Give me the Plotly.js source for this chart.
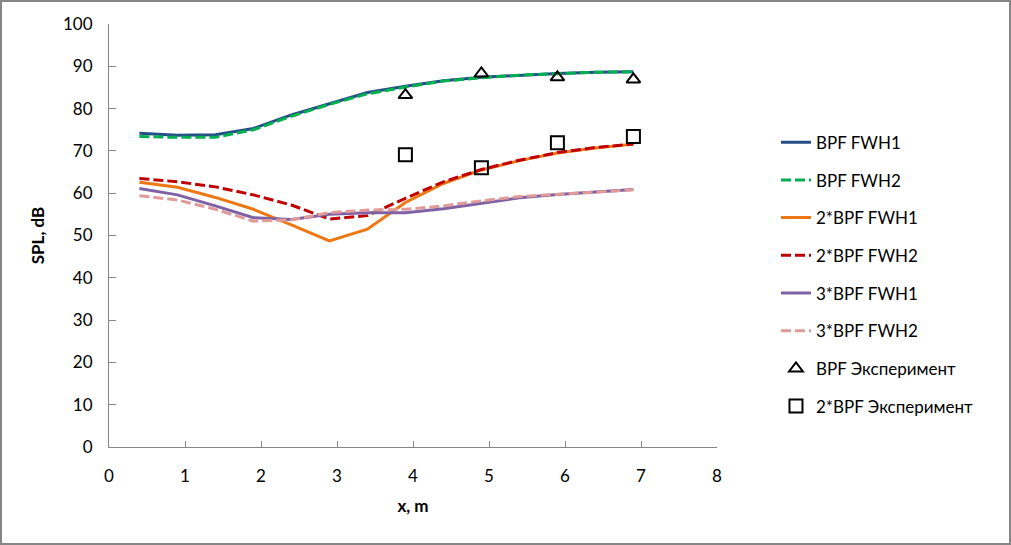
<!DOCTYPE html>
<html>
<head>
<meta charset="utf-8">
<script src="https://cdn.plot.ly/plotly-3.0.1.min.js"></script>
<style>
html,body{margin:0;padding:0;background:#fff;}
#wrap{width:1011px;height:545px;box-sizing:border-box;border:2px solid #868686;}
#chart{width:1007px;height:541px;}
</style>
</head>
<body>
<div id="wrap"><div id="chart"></div></div>
<script>
const xModel = [0.4, 0.9, 1.4, 1.9, 2.4, 2.9, 3.4, 3.9, 4.4, 4.9, 5.4, 5.9, 6.4, 6.9];
const bpfFwh1  = [74.2, 73.7, 73.8, 75.3, 78.5, 81.2, 83.8, 85.3, 86.6, 87.4, 87.9, 88.3, 88.6, 88.7];
const bpfFwh2  = [73.4, 73.2, 73.2, 75.0, 78.2, 81.0, 83.5, 85.1, 86.5, 87.3, 87.9, 88.3, 88.6, 88.7];
const bpf2Fwh1 = [62.6, 61.4, 59.0, 56.2, 52.5, 48.7, 51.5, 57.8, 62.3, 65.5, 67.7, 69.5, 70.7, 71.6];
const bpf2Fwh2 = [63.5, 62.7, 61.5, 59.6, 57.2, 53.9, 54.7, 58.8, 62.7, 65.6, 67.8, 69.6, 70.8, 71.6];
const bpf3Fwh1 = [61.1, 59.6, 57.0, 54.2, 53.8, 55.0, 55.4, 55.4, 56.3, 57.6, 58.9, 59.7, 60.3, 60.9];
const bpf3Fwh2 = [59.4, 58.4, 56.2, 53.4, 53.7, 55.4, 56.0, 56.2, 57.0, 58.2, 59.2, 59.7, 60.3, 60.8];
const xExp = [3.9, 4.9, 5.9, 6.9];
const bpfExp  = [83.2, 88.3, 87.4, 86.9];
const bpf2Exp = [69.1, 66.0, 71.9, 73.4];
const xTicks = [0, 1, 2, 3, 4, 5, 6, 7, 8];
const yTicks = [0, 10, 20, 30, 40, 50, 60, 70, 80, 90, 100];

const lineTrace = (y, name, color, dash, g) => ({
  x: xModel, y: y, name: name, type: 'scatter', mode: 'lines',
  line: {color: color, width: 3, dash: dash}, legendgroup: g
});
const data = [
  lineTrace(bpfFwh1, 'BPF FWH1', '#254E86', 'solid', 'a'),
  lineTrace(bpfFwh2, 'BPF FWH2', '#00B050', '10px,4px', 'b'),
  lineTrace(bpf2Fwh1, '2*BPF FWH1', '#ED7813', 'solid', 'c'),
  lineTrace(bpf2Fwh2, '2*BPF FWH2', '#C00000', '10px,4px', 'd'),
  lineTrace(bpf3Fwh1, '3*BPF FWH1', '#7F62A6', 'solid', 'e'),
  lineTrace(bpf3Fwh2, '3*BPF FWH2', '#E09A98', '10px,4px', 'f'),
  {x: xExp, y: bpfExp, name: 'BPF Эксперимент', type: 'scatter', mode: 'markers',
   marker: {symbol: 'triangle-up-open', size: 12, color: '#000', line: {width: 2, color: '#000'}}, legendgroup: 'g'},
  {x: xExp, y: bpf2Exp, name: '2*BPF Эксперимент', type: 'scatter', mode: 'markers',
   marker: {symbol: 'square-open', size: 13, color: '#000', line: {width: 2, color: '#000'}}, legendgroup: 'h'}
];

const font = {family: 'Lato, "Liberation Sans", sans-serif', size: 17, color: '#000'};
const layout = {
  width: 1007, height: 541,
  margin: {l: 107, r: 292, t: 22, b: 96},
  paper_bgcolor: '#fff', plot_bgcolor: '#fff',
  font: font,
  showlegend: true,
  legend: {x: 1.097, xanchor: 'left', y: 0.762, yanchor: 'top', tracegroupgap: 12.6,
           font: font, bgcolor: 'rgba(0,0,0,0)'},
  xaxis: {range: [0, 8], tickvals: xTicks, ticktext: xTicks.map(String),
          showgrid: false, zeroline: false, showline: true, linecolor: '#868686', linewidth: 1,
          ticks: 'inside', ticklen: 6, tickcolor: '#868686', ticklabelstandoff: 14,
          title: {text: '<b>x, m</b>', font: font, standoff: 14}},
  yaxis: {range: [0, 100], tickvals: yTicks, ticktext: yTicks.map(String),
          showgrid: false, zeroline: false, showline: true, linecolor: '#868686', linewidth: 1,
          ticks: 'inside', ticklen: 7, tickcolor: '#868686', ticklabelstandoff: 12,
          title: {text: '<b>SPL, dB</b>', font: font, standoff: 14}}
};
Plotly.newPlot('chart', data, layout, {displayModeBar: false, staticPlot: true});
</script>
</body>
</html>
